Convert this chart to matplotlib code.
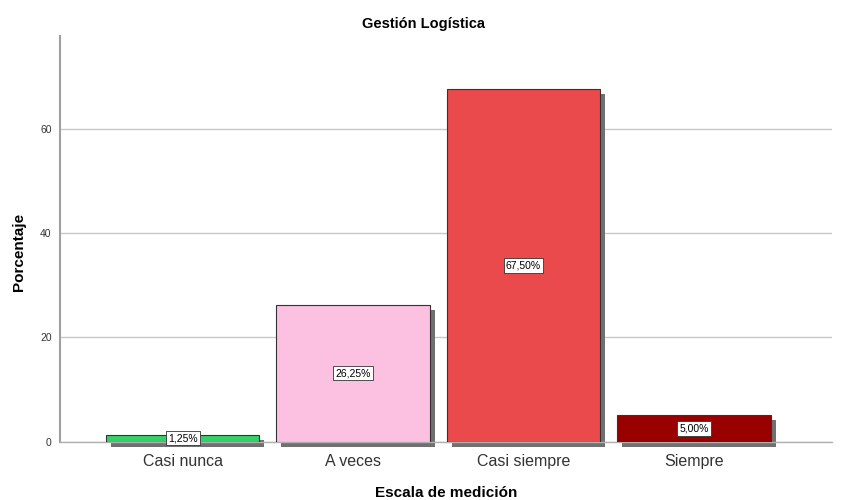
import matplotlib.pyplot as plt
from matplotlib.transforms import ScaledTranslation

plt.rcParams['font.family'] = ['Liberation Sans', 'DejaVu Sans']

categorias = ['Casi nunca', 'A veces', 'Casi siempre', 'Siempre']
porcentajes = [1.25, 26.25, 67.50, 5.00]
etiquetas = ['1,25%', '26,25%', '67,50%', '5,00%']
colores = ['#33d16a', '#fcc0e0', '#eb4a4d', '#990000']

fig = plt.figure(figsize=(8.46, 5.0), dpi=100)
ax = fig.add_axes([60/846, 1 - 441.5/500, 772/846, 405.5/500])

x = list(range(len(categorias)))

# sombra de las barras
sombra = ax.transData + ScaledTranslation(5/100, -5/100, fig.dpi_scale_trans)
ax.bar(x, porcentajes, width=0.9, color='#707070', transform=sombra,
       zorder=2, clip_on=False)
ax.bar(x, porcentajes, width=0.9, color=colores, edgecolor='#333333',
       linewidth=0.8, zorder=3)

for xi, v, t in zip(x, porcentajes, etiquetas):
    ax.text(xi, v/2, t, ha='center', va='center', fontsize=7.5, zorder=5,
            bbox=dict(boxstyle='square,pad=0.2', fc='white', ec='#333333', lw=0.6))

ax.set_xlim(-0.72, 3.81)
ax.set_ylim(0, 77.75)
ax.set_yticks([0, 20, 40, 60])
ax.set_xticks(x)
ax.set_xticklabels(categorias, fontsize=11.5, color='#333333')
ax.tick_params(axis='y', labelsize=7.5, length=0, pad=6, colors='#333333')
ax.tick_params(axis='x', length=0, pad=9)
ax.grid(axis='y', color='#c8c8c8', linewidth=1, zorder=0)
ax.set_axisbelow(True)

for s in ['top', 'right']:
    ax.spines[s].set_visible(False)
ax.spines['left'].set_color('#a0a0a0')
ax.spines['left'].set_linewidth(1.5)
ax.spines['bottom'].set_color('#b0b0b0')
ax.spines['bottom'].set_linewidth(1)

ax.set_ylabel('Porcentaje', fontsize=11, fontweight='bold')
ax.yaxis.set_label_coords(-0.044, 0.467)
ax.set_xlabel('Escala de medición', fontsize=11, fontweight='bold', labelpad=12)
fig.text(0.5, 1 - 24/500, 'Gestión Logística', ha='center', va='center',
         fontsize=10.5, fontweight='bold')

fig.savefig('out.png', dpi=100)
